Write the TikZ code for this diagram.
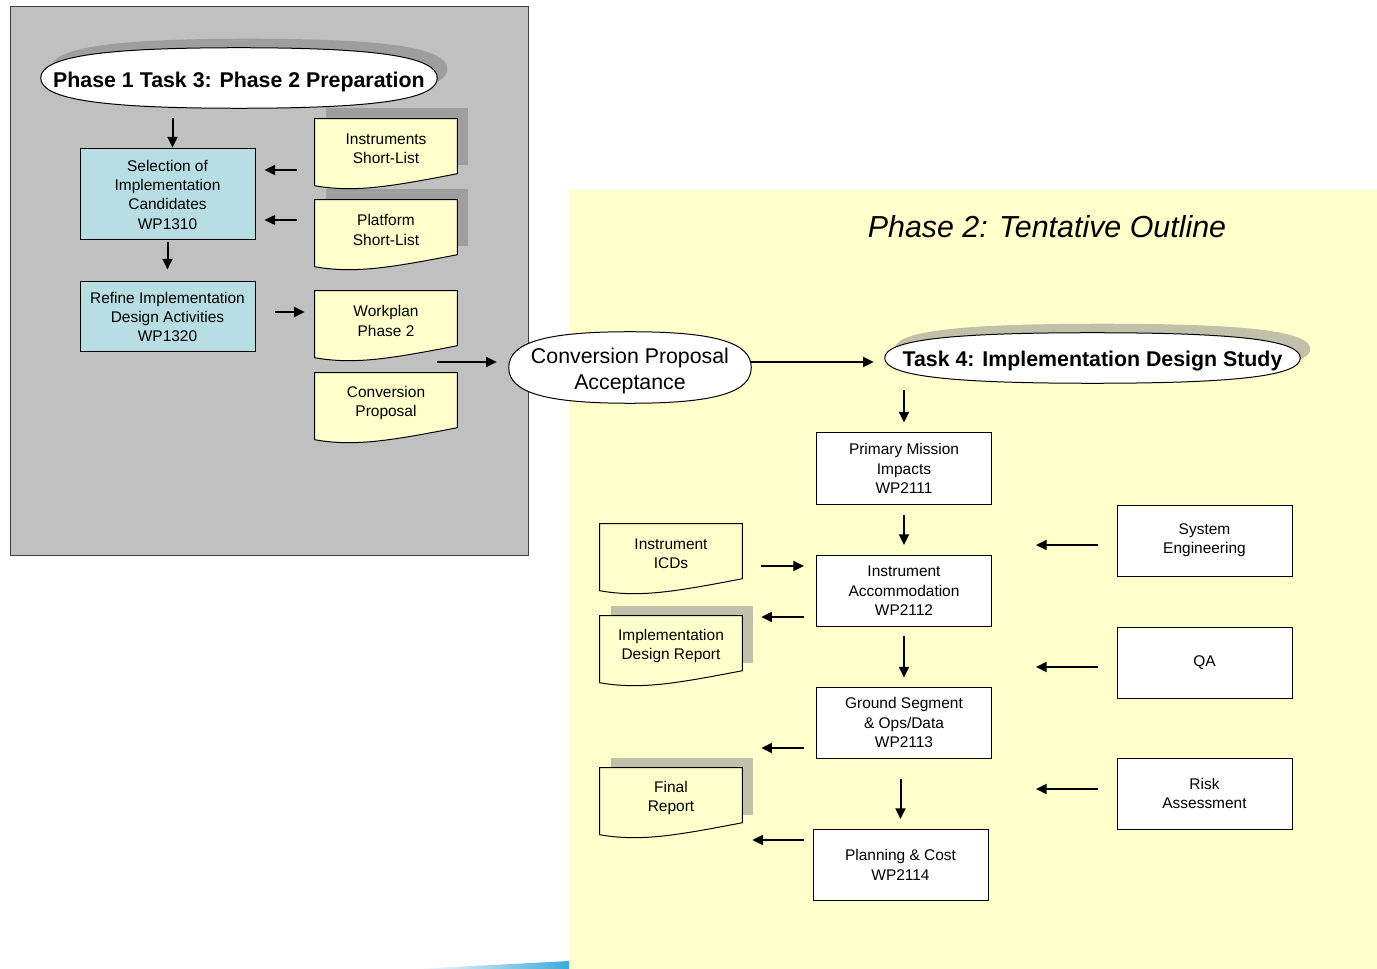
\documentclass[tikz,border=0pt]{standalone}
\usepackage{fontspec}
\setmainfont{Liberation Sans}
\usepackage{xcolor}
\usetikzlibrary{arrows.meta, calc}
\definecolor{panelgray}{HTML}{C0C0C0}
\definecolor{paneledge}{HTML}{404040}
\definecolor{graysh}{HTML}{9E9E9E}
\definecolor{paleyellow}{HTML}{FFFFCC}
\definecolor{khakish}{HTML}{C1C0A8}
\definecolor{wpblue}{HTML}{B7DEE3}
\definecolor{swoosh}{HTML}{3DA9DD}
\pgfdeclarelayer{bg}
\pgfdeclarelayer{mid}
\pgfsetlayers{bg,mid,main}
\newcommand{\ok}{0.7}
\newcommand{\ovalpath}[2]{($(#1.east)+(#2)$)
  .. controls ($(#1.east)!\ok!(#1.north east)+(#2)$) and ($(#1.north)!\ok!(#1.north east)+(#2)$) .. ($(#1.north)+(#2)$)
  .. controls ($(#1.north)!\ok!(#1.north west)+(#2)$) and ($(#1.west)!\ok!(#1.north west)+(#2)$) .. ($(#1.west)+(#2)$)
  .. controls ($(#1.west)!\ok!(#1.south west)+(#2)$) and ($(#1.south)!\ok!(#1.south west)+(#2)$) .. ($(#1.south)+(#2)$)
  .. controls ($(#1.south)!\ok!(#1.south east)+(#2)$) and ($(#1.east)!\ok!(#1.south east)+(#2)$) .. ($(#1.east)+(#2)$) -- cycle}
\tikzset{
  wpbox/.style={draw, line width=0.75pt, align=center, minimum width=131.25pt, minimum height=53.25pt, inner sep=2pt, font=\fontsize{11.6}{14.5}\selectfont},
  bluebox/.style={wpbox, fill=wpblue},
  whitebox/.style={wpbox, fill=white},
  docnode/.style={align=center, minimum width=106.5pt, minimum height=45pt, inner sep=0pt, font=\fontsize{11.6}{14.3}\selectfont},
  docline/.style={draw, line width=0.75pt, fill=paleyellow},
  ovalnode/.style={align=center, inner sep=0pt, font=\fontsize{16}{19.5}\selectfont\bfseries},
  ovalline/.style={draw, line width=0.75pt, fill=white},
  arrow/.style={-{Triangle[length=8pt, width=7.5pt]}, line width=1.5pt}
}

\begin{document}
\begin{tikzpicture}[x=0.75pt, y=-0.75pt]
    \useasboundingbox (0,0) rectangle (1377,969);
    \begin{pgfonlayer}{bg}
      \fill[white] (0,0) rectangle (1377,969);
      \draw[paneledge, line width=0.75pt, fill=panelgray] (10,7) rectangle (528,555);
      \fill[paleyellow] (569,190) rectangle (1377,969);
      \shade[left color=white, right color=swoosh] (415,969) -- (569,961) -- (569,969) -- cycle;
    \end{pgfonlayer}

    \node[ovalnode, minimum width=297pt, minimum height=45pt] (prep) at (239,82) {Phase 1 Task 3: Phase 2 Preparation};
    \node[bluebox, minimum height=68.25pt] (sel) at (167.5,194.5) {Selection of\\Implementation\\Candidates\\WP1310};
    \node[bluebox, minimum height=52.5pt] (refine) at (167.5,317) {Refine Implementation\\Design Activities\\WP1320};
    \node[docnode] (instr) at (386,149) {Instruments\\Short-List};
    \node[docnode] (platf) at (386,230) {Platform\\Short-List};
    \node[docnode] (workp) at (386,321) {Workplan\\Phase 2};
    \node[docnode] (convp) at (386,403) {Conversion\\Proposal};

    \node[ovalnode, font=\fontsize{16}{19.5}\selectfont, minimum width=181.5pt, minimum height=53.25pt] (accept) at (630,370.5) {Conversion Proposal\\Acceptance};

    \node[font=\fontsize{22.8}{27}\selectfont\itshape] (outline) at (1047,227) {Phase 2: Tentative Outline};
    \node[ovalnode, minimum width=311.25pt, minimum height=37.5pt] (task4) at (1092.5,361.5) {Task 4: Implementation Design Study};
    \node[whitebox] (wp2111) at (904,468.5) {Primary Mission\\Impacts\\WP2111};
    \node[whitebox] (wp2112) at (904,591) {Instrument\\Accommodation\\WP2112};
    \node[whitebox] (wp2113) at (904,722.5) {Ground Segment\\\& Ops/Data\\WP2113};
    \node[whitebox] (wp2114) at (900.5,865) {Planning \& Cost\\WP2114};
    \node[whitebox] (syseng) at (1204.5,540.5) {System\\Engineering};
    \node[whitebox] (qa) at (1204.5,663) {QA};
    \node[whitebox] (risk) at (1204.5,793.5) {Risk\\Assessment};
    \node[docnode] (icds) at (671,554) {Instrument\\ICDs};
    \node[docnode] (idrep) at (671,646) {Implementation\\Design Report};
    \node[docnode] (final) at (671,798) {Final\\Report};

    % ovals and document sheets, with their shadows
    \begin{pgfonlayer}{bg}
      \fill[graysh] \ovalpath{prep}{10,-13};
      \fill[khakish] \ovalpath{task4}{10,-12.5};
      \foreach \d in {instr, platf}
        \fill[graysh] ($(\d.north west)+(11,-11)$) rectangle ($(\d.north east)+(11,46)$);
      \foreach \d in {idrep, final}
        \fill[khakish] ($(\d.north west)+(11,-10)$) rectangle ($(\d.north east)+(11,47)$);
    \end{pgfonlayer}
    \begin{pgfonlayer}{mid}
      \draw[ovalline] \ovalpath{prep}{0,-4};
      \draw[ovalline] \ovalpath{accept}{0,-3};
      \draw[ovalline] \ovalpath{task4}{0,-3.5};
      \foreach \d in {instr, platf, workp, convp, icds, idrep, final}
        \draw[docline] (\d.north west) -- (\d.north east) -- ($(\d.north east)+(0,55)$)
          .. controls ($(\d.north west)+(75,68)$) and ($(\d.north west)+(40,74)$) .. ($(\d.north west)+(0,67)$) -- cycle;
    \end{pgfonlayer}

    \draw[arrow] ($(sel.north |- prep.south)+(5,6)$) -- ($(sel.north)+(5,-1)$);
    \draw[arrow] ($(sel.south)+(0,2)$) -- ($(refine.north)+(0,-12)$);
    \draw[arrow] ($(instr.west)+(-18,21)$) -- ($(sel.east)+(9,-24.5)$);
    \draw[arrow] ($(platf.west)+(-18,-10)$) -- ($(sel.east)+(9,25.5)$);
    \draw[arrow] ($(refine.east)+(19,-5)$) -- ($(workp.west)+(-10,-9)$);
    \draw[arrow] ($(workp.east)+(-20,41)$) -- ($(accept.west)+(-12,-8.5)$);
    \draw[arrow] ($(accept.east)+(0,-8.5)$) -- ($(task4.west)+(-11,0.5)$);

    \draw[arrow] ($(wp2111.north |- task4.south)+(0,3.5)$) -- ($(wp2111.north)+(0,-10)$);
    \draw[arrow] ($(wp2111.south)+(0,10)$) -- ($(wp2112.north)+(0,-10)$);
    \draw[arrow] ($(wp2112.south)+(0,9)$) -- ($(wp2113.north)+(0,-9)$);
    \draw[arrow] ($(wp2114.north |- wp2113.south)+(0,20)$) -- ($(wp2114.north)+(0,-10)$);
    \draw[arrow] ($(icds.east)+(19,12)$) -- ($(wp2112.west)+(-12,-25)$);
    \draw[arrow] ($(wp2112.west)+(-12,26)$) -- ($(idrep.east)+(19,-29)$);
    \draw[arrow] ($(wp2113.west)+(-12,25.5)$) -- ($(final.east)+(19,-50)$);
    \draw[arrow] ($(wp2114.west)+(-9,-25)$) -- ($(final.east)+(10,42)$);
    \draw[arrow] ($(syseng.west)+(-19,4.5)$) -- ($(wp2112.east)+(44,-46)$);
    \draw[arrow] ($(qa.west)+(-19,4)$) -- ($(wp2113.east)+(44,-55.5)$);
    \draw[arrow] ($(risk.west)+(-19,-4.5)$) -- ($(wp2113.east)+(44,66.5)$);
\end{tikzpicture}
\end{document}
